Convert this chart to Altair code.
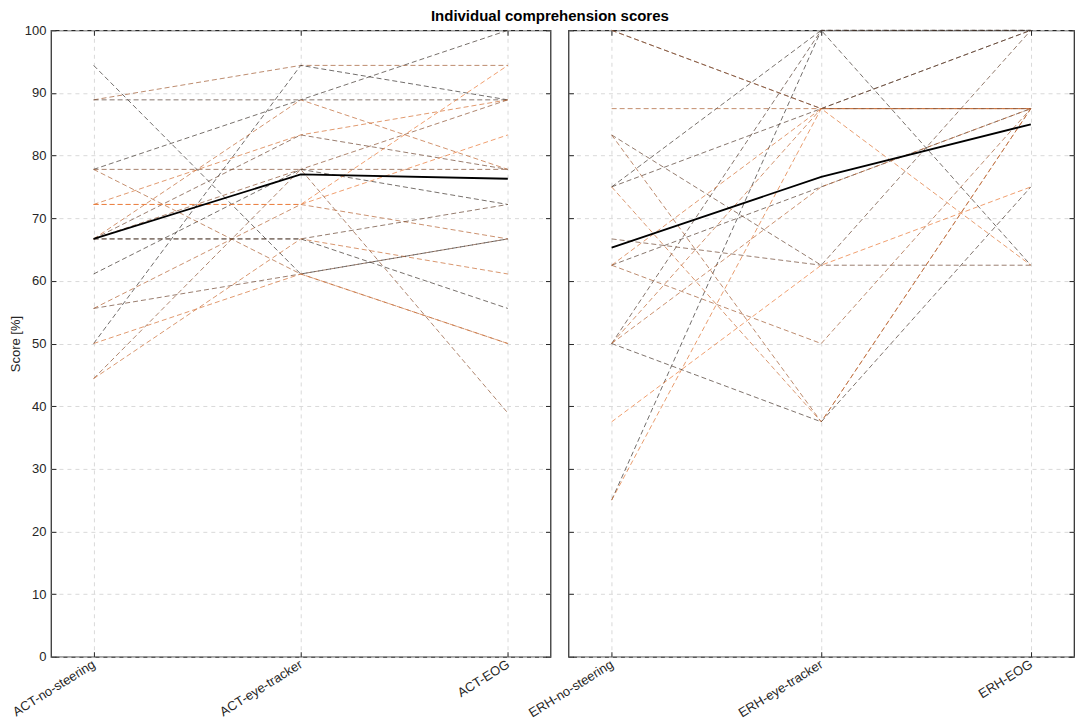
import altair as alt
import pandas as pd

# ---------------- data ----------------
act_conditions = ["ACT-no-steering", "ACT-eye-tracker", "ACT-EOG"]
act_no_steering = [88.9, 50.0, 88.9, 77.8, 66.7, 72.2, 66.7, 77.8, 66.7, 61.1, 44.4,
                   72.2, 55.6, 66.7, 44.4, 94.4, 77.8, 55.6, 50.0, 66.7, 72.2]
act_eye_tracker = [94.4, 94.4, 88.9, 88.9, 88.9, 83.3, 83.3, 77.8, 77.8, 77.8, 77.8,
                   72.2, 72.2, 66.7, 66.7, 61.1, 61.1, 61.1, 61.1, 66.7, 72.2]
act_eog = [94.4, 88.9, 88.9, 100.0, 77.8, 88.9, 77.8, 77.8, 88.9, 72.2, 38.9,
           94.4, 66.7, 72.2, 61.1, 66.7, 50.0, 66.7, 50.0, 55.6, 83.3]
act_shade = [0.6, 0.05, 0.2, 0.1, 0.75, 0.85, 0.35, 0.45, 0.5, 0.1, 0.5,
             0.95, 0.7, 0.3, 0.8, 0.05, 0.65, 0.35, 0.85, 0.1, 0.95]
act_mean = [66.7, 77.0, 76.3]

erh_conditions = ["ERH-no-steering", "ERH-eye-tracker", "ERH-EOG"]
erh_no_steering = [75.0, 25.0, 50.0, 100.0, 75.0, 87.5, 50.0, 25.0, 62.5, 50.0,
                   83.3, 66.7, 37.5, 62.5, 83.3, 75.0, 50.0, 62.5, 100.0]
erh_eye_tracker = [100.0, 100.0, 100.0, 87.5, 87.5, 87.5, 87.5, 87.5, 75.0, 75.0,
                   62.5, 62.5, 62.5, 50.0, 37.5, 37.5, 37.5, 87.5, 87.5]
erh_eog = [62.5, 100.0, 100.0, 100.0, 100.0, 87.5, 87.5, 62.5, 87.5, 87.5,
           100.0, 62.5, 75.0, 87.5, 87.5, 87.5, 75.0, 87.5, 87.5]
erh_shade = [0.1, 0.05, 0.2, 0.4, 0.2, 0.65, 0.75, 0.9, 0.2, 0.7,
             0.3, 0.35, 0.95, 0.6, 0.6, 0.8, 0.15, 0.85, 0.45]
erh_mean = [65.3, 76.6, 85.0]

y_ticks = [0, 10, 20, 30, 40, 50, 60, 70, 80, 90, 100]


def long_table(conds, a, b, c, shade):
    rows = []
    for i, (va, vb, vc, s) in enumerate(zip(a, b, c, shade)):
        for cond, v in zip(conds, (va, vb, vc)):
            rows.append({"subject": i, "condition": cond, "score": v, "shade": s})
    return pd.DataFrame(rows)


def mean_table(conds, m):
    return pd.DataFrame({"condition": conds, "score": m})


FONT = "Liberation Sans"
INK = "#262626"


def tick_axis(orient, values=None):
    kw = dict(orient=orient, offset=-5, tickSize=5, tickColor=INK, tickWidth=1, labels=False,
              domain=False, grid=False, title=None, minExtent=0)
    if values is not None:
        kw["values"] = values
    return alt.Axis(**kw)


def panel(conds, df, mdf, width, show_labels):
    def xs():
        return alt.Scale(type="point", domain=conds, padding=0.206)

    def ys():
        return alt.Scale(domain=[0, 100], nice=False, zero=True)

    y_axis_kw = dict(orient="left", values=y_ticks, labels=show_labels, ticks=False, domain=False,
                     grid=True, gridDash=[4, 4], gridColor="#d9d9d9", labelFont=FONT,
                     labelFontSize=13, labelColor=INK, labelPadding=5)
    if show_labels:
        y_axis_kw.update(title="Score [%]", titleFont=FONT, titleFontSize=13,
                         titleFontWeight="normal", titleColor=INK, titlePadding=2)
    else:
        y_axis_kw.update(title=None, minExtent=0)

    subj = alt.Chart(df).mark_line(strokeDash=[5, 3], strokeWidth=0.9, strokeOpacity=0.78).encode(
        x=alt.X("condition:N", scale=xs(), sort=conds,
                axis=alt.Axis(orient="bottom", title=None, labelAngle=328, labelAlign="right",
                              labelBaseline="middle", labelPadding=6, ticks=False, domain=False,
                              grid=True, gridDash=[4, 4], gridColor="#d9d9d9",
                              labelFont=FONT, labelFontSize=13, labelColor=INK)),
        y=alt.Y("score:Q", scale=ys(), axis=alt.Axis(**y_axis_kw)),
        color=alt.Color("shade:Q", scale=alt.Scale(domain=[0, 1], range=["#2b2b2b", "#f47a30"]),
                        legend=None),
        detail="subject:N",
    )

    # mean line, carrying the inward ticks of the left and bottom edges
    mean = alt.Chart(mdf).mark_line(color="black", strokeWidth=1.8).encode(
        x=alt.X("condition:N", scale=xs(), sort=conds, axis=tick_axis("bottom")),
        y=alt.Y("score:Q", scale=ys(), axis=tick_axis("left", y_ticks)),
    )

    # invisible points carrying the inward ticks of the top and right edges
    ghost = alt.Chart(mdf).mark_point(opacity=0).encode(
        x=alt.X("condition:N", scale=xs(), sort=conds, axis=tick_axis("top")),
        y=alt.Y("score:Q", scale=ys(), axis=tick_axis("right", y_ticks)),
    )

    return alt.layer(subj, mean, ghost).resolve_scale(
        x="independent", y="independent", color="independent"
    ).properties(width=width, height=627)


act_df = long_table(act_conditions, act_no_steering, act_eye_tracker, act_eog, act_shade)
erh_df = long_table(erh_conditions, erh_no_steering, erh_eye_tracker, erh_eog, erh_shade)

left = panel(act_conditions, act_df, mean_table(act_conditions, act_mean), 500, True)
right = panel(erh_conditions, erh_df, mean_table(erh_conditions, erh_mean), 506, False)

chart = alt.hconcat(left, right, spacing=18, bounds="flush").properties(
    title=alt.TitleParams("Individual comprehension scores", font=FONT, fontSize=15,
                          fontWeight="bold", color="black", anchor="middle", offset=0, dx=8),
    padding={"left": 0, "top": 0, "right": 0, "bottom": 0},
).configure_view(stroke=INK, strokeWidth=1.2)

chart.save("out.html", embed_options={"renderer": "svg", "actions": False})
